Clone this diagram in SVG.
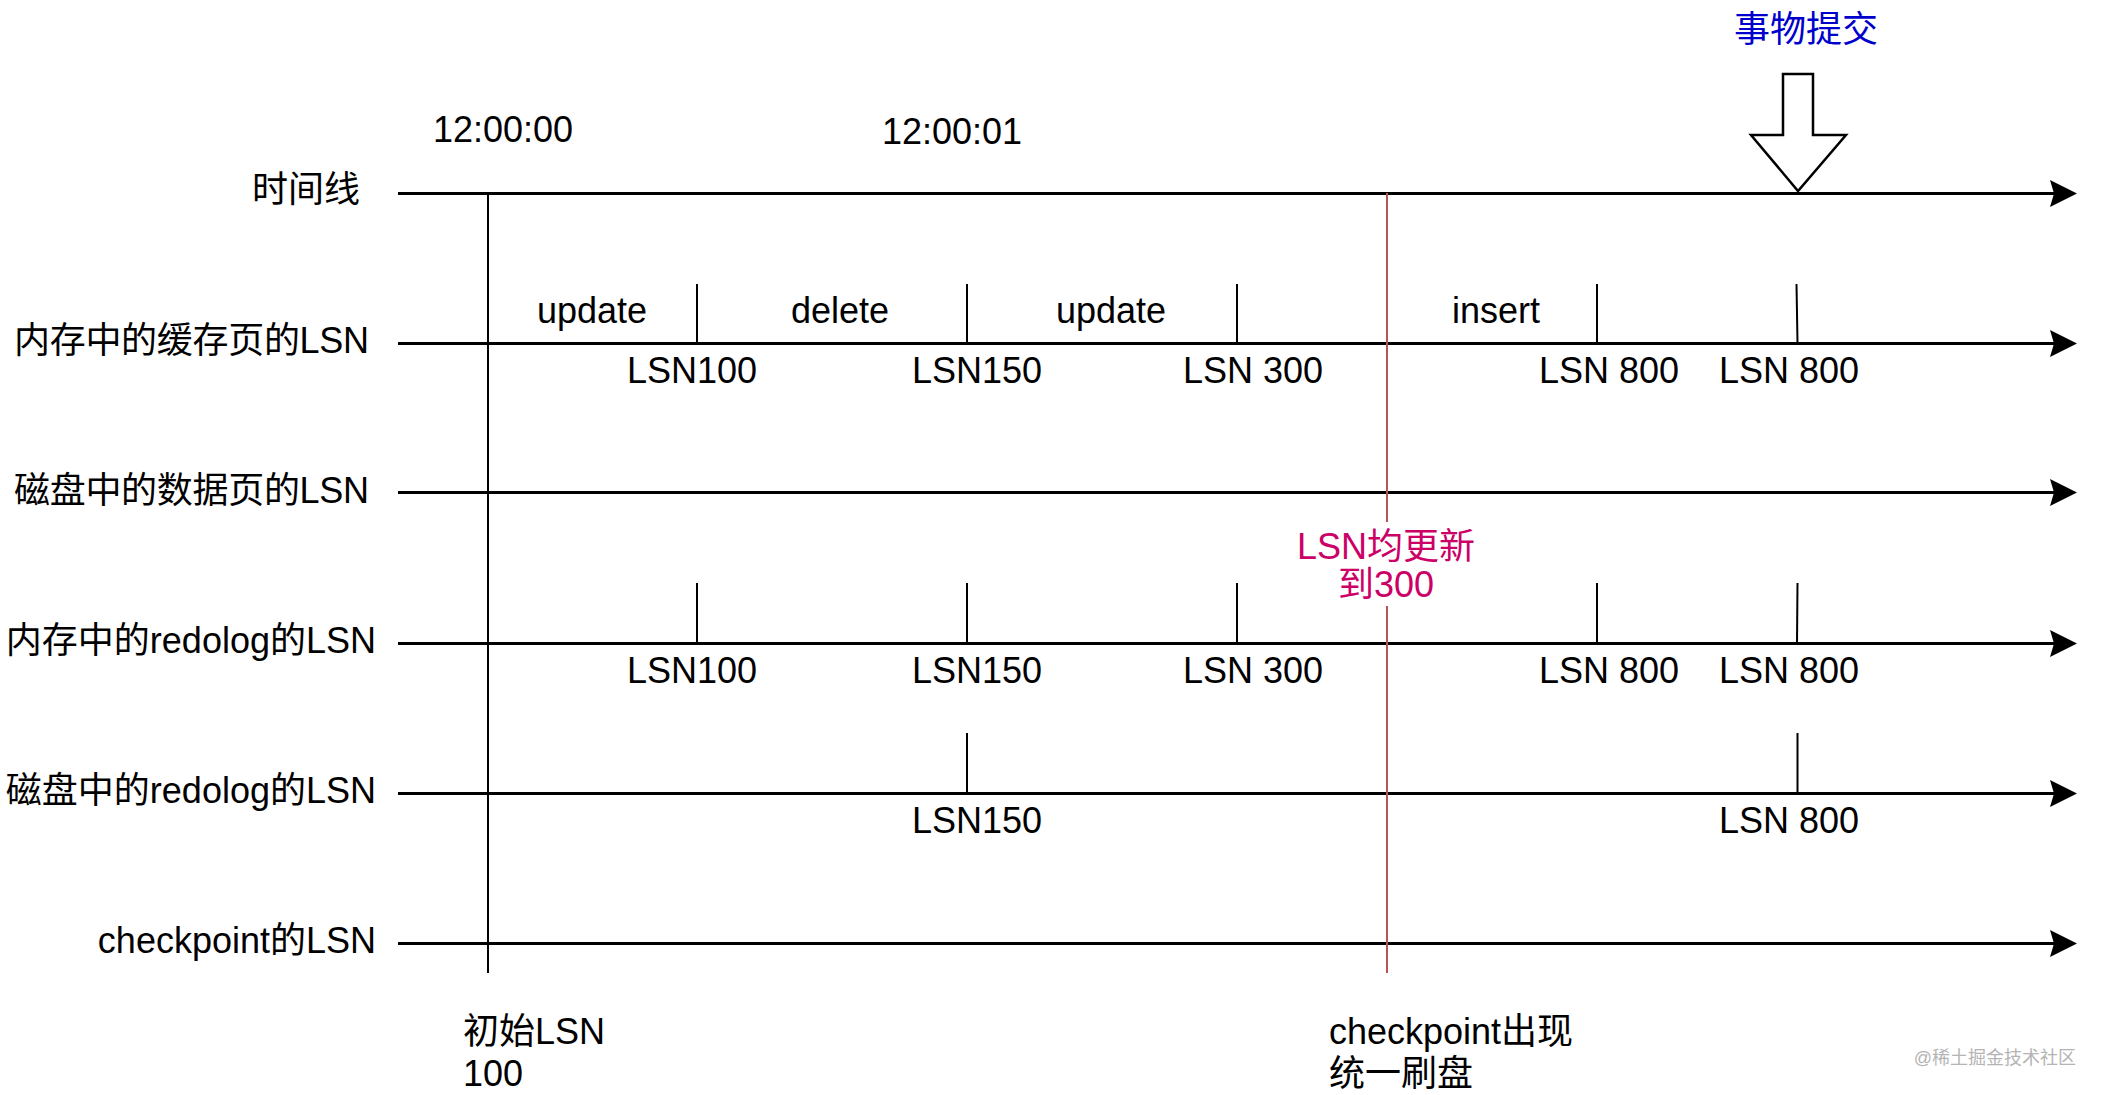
<svg xmlns="http://www.w3.org/2000/svg" width="2103" height="1095" viewBox="0 0 2103 1095">
<style>
text{font-family:"Liberation Sans","Noto Sans CJK SC",sans-serif;font-size:36px;fill:#000}
.lab{text-anchor:end}
.c{text-anchor:middle}
.axis{stroke:#000;stroke-width:3;fill:none}
.tick{stroke:#000;stroke-width:2;fill:none}
</style>
<defs>
<marker id="ah" markerUnits="userSpaceOnUse" markerWidth="30" markerHeight="30" viewBox="0 0 30 30" refX="4" refY="15" orient="auto">
<path d="M0,1.5 L27,15 L0,28.5 L4,15 Z" fill="#000"/>
</marker>
</defs>
<rect width="2103" height="1095" fill="#fff"/>

<g id="connectors">
<line class="axis" x1="398" y1="193.5" x2="2054" y2="193.5" marker-end="url(#ah)"/>
<line class="axis" x1="398" y1="343.5" x2="2054" y2="343.5" marker-end="url(#ah)"/>
<line class="axis" x1="398" y1="492.5" x2="2054" y2="492.5" marker-end="url(#ah)"/>
<line class="axis" x1="398" y1="643.5" x2="2054" y2="643.5" marker-end="url(#ah)"/>
<line class="axis" x1="398" y1="793.5" x2="2054" y2="793.5" marker-end="url(#ah)"/>
<line class="axis" x1="398" y1="943.5" x2="2054" y2="943.5" marker-end="url(#ah)"/>
<line class="tick" x1="488" y1="194" x2="488" y2="973"/>
<line x1="1387" y1="193" x2="1387" y2="973" stroke="#b85450" stroke-width="2"/>
<g id="ticks-row2">
<line class="tick" x1="697" y1="284" x2="697" y2="343"/>
<line class="tick" x1="967" y1="284" x2="967" y2="343"/>
<line class="tick" x1="1237" y1="284" x2="1237" y2="343"/>
<line class="tick" x1="1597" y1="284" x2="1597" y2="343"/>
<line class="tick" x1="1796.5" y1="284" x2="1797.5" y2="343"/>
</g>
<g id="ticks-row4">
<line class="tick" x1="697" y1="583" x2="697" y2="643"/>
<line class="tick" x1="967" y1="583" x2="967" y2="643"/>
<line class="tick" x1="1237" y1="583" x2="1237" y2="643"/>
<line class="tick" x1="1597" y1="583" x2="1597" y2="643"/>
<line class="tick" x1="1797.5" y1="583" x2="1797" y2="643"/>
</g>
<g id="ticks-row5">
<line class="tick" x1="967" y1="733" x2="967" y2="793"/>
<line class="tick" x1="1797.5" y1="733" x2="1797.5" y2="793"/>
</g>
</g>

<g id="row-labels">
<text class="lab" x="360" y="202">时间线</text>
<text x="14" y="353" textLength="355" lengthAdjust="spacing">内存中的缓存页的LSN</text>
<text x="14" y="502.5" textLength="355" lengthAdjust="spacing">磁盘中的数据页的LSN</text>
<text class="lab" x="376" y="653">内存中的redolog的LSN</text>
<text class="lab" x="376" y="803">磁盘中的redolog的LSN</text>
<text class="lab" x="376" y="953">checkpoint的LSN</text>
</g>

<g id="times">
<text class="c" x="503" y="142">12:00:00</text>
<text class="c" x="952" y="144">12:00:01</text>
</g>

<g id="commit">
<text class="c" x="1806" y="42" style="fill:#0000cc">事物提交</text>
<polygon points="1783,74 1813,74 1813,135 1846,135 1798,191 1751,135 1783,135" fill="#fff" stroke="#000" stroke-width="2.5" stroke-linejoin="miter"/>
</g>

<g id="ops">
<text class="c" x="592" y="323">update</text>
<text class="c" x="840" y="323">delete</text>
<text class="c" x="1111" y="323">update</text>
<text class="c" x="1496" y="323">insert</text>
</g>

<g id="row2-lsn">
<text class="c" x="692" y="383">LSN100</text>
<text class="c" x="977" y="383">LSN150</text>
<text class="c" x="1253" y="383">LSN 300</text>
<text class="c" x="1609" y="383">LSN 800</text>
<text class="c" x="1789" y="383">LSN 800</text>
</g>

<g id="row4-lsn">
<text class="c" x="692" y="683">LSN100</text>
<text class="c" x="977" y="683">LSN150</text>
<text class="c" x="1253" y="683">LSN 300</text>
<text class="c" x="1609" y="683">LSN 800</text>
<text class="c" x="1789" y="683">LSN 800</text>
</g>

<g id="row5-lsn">
<text class="c" x="977" y="833">LSN150</text>
<text class="c" x="1789" y="833">LSN 800</text>
</g>

<g id="update-note">
<rect x="1296" y="522" width="180" height="84" fill="#fff"/>
<text class="c" x="1386" y="559" style="fill:#cc0066">LSN均更新</text>
<text class="c" x="1386" y="597" style="fill:#cc0066">到300</text>
</g>

<g id="initial">
<text x="463" y="1044">初始LSN</text>
<text x="463" y="1086">100</text>
</g>

<g id="checkpoint-note">
<text x="1329" y="1044">checkpoint出现</text>
<text x="1329" y="1086">统一刷盘</text>
</g>

<text x="2076" y="1064" style="font-size:18px;fill:#b4b4b4;text-anchor:end">@稀土掘金技术社区</text>
</svg>
